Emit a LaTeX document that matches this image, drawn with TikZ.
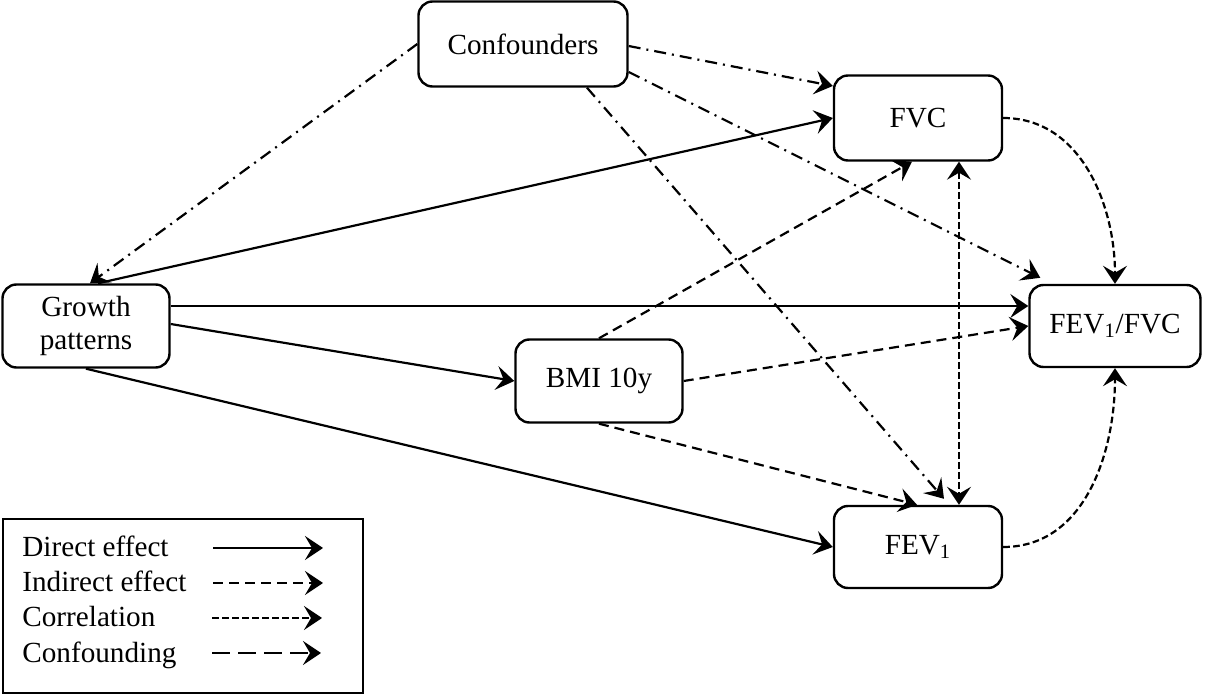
\documentclass[tikz,border=0pt]{standalone}
\usepackage{fontspec}
\setmainfont{Liberation Serif}
\usetikzlibrary{arrows.meta}
\begin{document}
\begin{tikzpicture}[x=0.5pt,y=-0.5pt,
  box/.style={draw, line width=1.2pt, rounded corners=7pt, align=center,
    font=\fontsize{14.6}{16.5}\selectfont, inner sep=0pt},
  lbl/.style={font=\fontsize{14.6}{16.5}\selectfont, inner sep=0pt, anchor=base west},
  tip/.tip={Stealth[length=9pt,width=12pt,inset=3.5pt]},
  arr/.style={line width=1.1pt, -tip},
  biarr/.style={line width=1.1pt, tip-tip},
  direct/.style={arr},
  indirect/.style={arr, dash pattern=on 5pt off 3pt},
  correl/.style={arr, dash pattern=on 3.3pt off 1.7pt},
  confound/.style={arr, dash pattern=on 9pt off 4pt},
  dashdot/.style={arr, dash pattern=on 6pt off 3pt on 1pt off 3pt},
]
\useasboundingbox (0,0) rectangle (1207,695);

% nodes
\node[box, minimum width=104.5pt, minimum height=42.5pt] (conf) at (523,44) {Confounders};
\node[box, minimum width=84pt, minimum height=42.5pt] (fvc) at (918,118) {FVC};
\node[box, minimum width=85.5pt, minimum height=41pt] (ratio) at (1115,326) {FEV\textsubscript{1}/FVC};
\node[box, minimum width=84pt, minimum height=41pt] (fev) at (918,547) {FEV\textsubscript{1}};
\node[box, minimum width=83.5pt, minimum height=41.5pt] (bmi) at (599,381) {BMI 10y};
\node[box, minimum width=83.5pt, minimum height=41.5pt] (growth) at (86,326) {Growth\\patterns};

% confounding (dash-dot)
\draw[dashdot] (conf.west) -- ([xshift=2pt]growth.north);
\draw[dashdot] ([yshift=-1pt]conf.east) -- ([yshift=16pt]fvc.west);
\draw[dashdot] ([yshift=-14pt]conf.east) -- ([xshift=6pt,yshift=3pt]ratio.north west);
\draw[dashdot] ([xshift=32pt]conf.south) -- ([xshift=13pt,yshift=3pt]fev.north);

% direct effects
\draw[direct] ([xshift=6pt]growth.north) -- (fvc.west);
\draw[direct] ([yshift=10pt]growth.east) -- ([yshift=10pt]ratio.west);
\draw[direct] ([yshift=1pt]growth.east) -- (bmi.west);
\draw[direct] (growth.south) -- (fev.west);

% indirect effects
\draw[indirect] (bmi.north) -- ([xshift=-3pt]fvc.south);
\draw[indirect] (bmi.east) -- (ratio.west);
\draw[indirect] (bmi.south) -- ([xshift=-0.5pt]fev.north);

% correlation
\draw[biarr, dash pattern=on 3.3pt off 1.7pt] ([xshift=20.5pt]fvc.south) -- ([xshift=20.5pt]fev.north);
\draw[correl] (fvc.east) to[out=0,in=90] (ratio.north);
\draw[correl] (fev.east) to[out=0,in=-90] (ratio.south);

% legend
\node[draw, line width=1.2pt, minimum width=180pt, minimum height=87pt, inner sep=0pt] (legend) at (183,606) {};
\node[lbl] (t1) at (22,557) {Direct effect};
\node[lbl] (t2) at (22,592) {Indirect effect};
\node[lbl] (t3) at (22,627) {Correlation};
\node[lbl] (t4) at (22,662) {Confounding};
\coordinate (a1) at (213,548); \coordinate (b1) at (323,548);
\coordinate (a2) at (213,583); \coordinate (b2) at (323,583);
\coordinate (a3) at (212,618); \coordinate (b3) at (322,618);
\coordinate (a4) at (212,653); \coordinate (b4) at (321,653);
\draw[direct] (a1) -- (b1);
\draw[indirect] (a2) -- (b2);
\draw[correl] (a3) -- (b3);
\draw[confound] (a4) -- (b4);
\end{tikzpicture}
\end{document}
